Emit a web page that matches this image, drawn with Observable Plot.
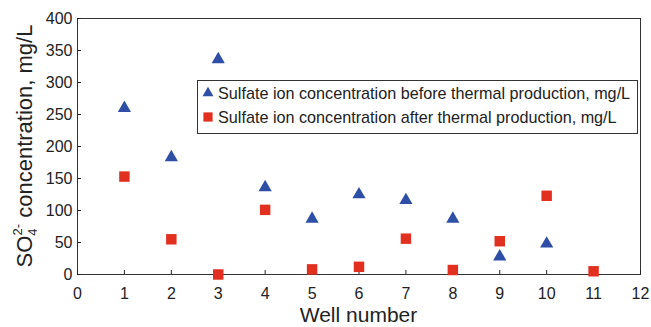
<!DOCTYPE html>
<html>
<head>
<meta charset="utf-8">
<script src="https://cdn.jsdelivr.net/npm/d3@7"></script>
<script src="https://cdn.jsdelivr.net/npm/@observablehq/plot@0.6"></script>
<style>
  html, body { margin: 0; padding: 0; background: #fff; }
  #chart { width: 651px; height: 327px; }
</style>
</head>
<body>
<div id="chart"></div>
<script>
// Data
const wellsBefore = [1, 2, 3, 4, 5, 6, 7, 8, 9, 10];
const sulfateBefore = [260, 183, 336, 136, 87, 125, 116, 87, 28, 48];
const wellsAfter = [1, 2, 3, 4, 5, 6, 7, 8, 9, 10, 11];
const sulfateAfter = [153, 55, 0, 101, 8, 12, 56, 7, 52, 123, 5];
const xTicks = [0, 1, 2, 3, 4, 5, 6, 7, 8, 9, 10, 11, 12];
const yTicks = [0, 50, 100, 150, 200, 250, 300, 350, 400];
const seriesNames = [
  "Sulfate ion concentration before thermal production, mg/L",
  "Sulfate ion concentration after thermal production, mg/L"
];
const xTitle = "Well number";

const W = 651, H = 327;
const mL = 77, mR = 11, mT = 18, mB = 53;
const blue = "#2f4fa6", red = "#e1301f";

const before = wellsBefore.map((w, i) => ({well: w, value: sulfateBefore[i]}));
const after = wellsAfter.map((w, i) => ({well: w, value: sulfateAfter[i]}));

const plot = Plot.plot({
  width: W,
  height: H,
  marginLeft: mL,
  marginRight: mR,
  marginTop: mT,
  marginBottom: mB,
  style: {fontFamily: "'Liberation Sans', Arial, sans-serif", fontSize: "16px", color: "#222", background: "#fff"},
  x: {domain: [0, 12]},
  y: {domain: [0, 400]},
  marks: [
    Plot.frame({stroke: "#333", strokeWidth: 1}),
    Plot.ruleX(xTicks, {x: d => d, insetTop: (H - mT - mB) - 4, stroke: "#222"}),
    Plot.ruleY(yTicks, {y: d => d, insetRight: (W - mL - mR) - 4, stroke: "#222"}),
    Plot.axisX({ticks: xTicks, tickSize: 0, tickPadding: 13, label: null, tickFormat: d => String(d), fontSize: 16}),
    Plot.axisY({ticks: yTicks, tickSize: 0, tickPadding: 5, label: null, tickFormat: d => String(d), fontSize: 16}),
    Plot.dot(before, {x: "well", y: "value", symbol: "triangle", r: 4.9, fill: blue, stroke: null}),
    Plot.dot(after, {x: "well", y: "value", symbol: "square", r: 5.9, fill: red, stroke: null})
  ]
});

document.getElementById("chart").appendChild(plot);

const svg = d3.select(plot);
const font = "'Liberation Sans', Arial, sans-serif";

// X axis title
svg.append("text")
  .attr("x", (mL + W - mR) / 2)
  .attr("y", 322)
  .attr("text-anchor", "middle")
  .attr("font-family", font)
  .attr("font-size", 21)
  .attr("fill", "#222")
  .text(xTitle);

// Y axis title with subscript/superscript
const yt = svg.append("text")
  .attr("transform", `translate(32,${(mT + H - mB) / 2}) rotate(-90)`)
  .attr("text-anchor", "middle")
  .attr("font-family", font)
  .attr("font-size", 22)
  .attr("fill", "#222");
yt.append("tspan").text("SO");
yt.append("tspan").attr("font-size", 13).attr("dy", 5).text("4");
yt.append("tspan").attr("font-size", 13).attr("dx", -7).attr("dy", -15).text("2-");
yt.append("tspan").attr("dy", 10).text(" concentration, mg/L");

// Legend
const lg = svg.append("g").attr("text-anchor", "start");
lg.append("rect")
  .attr("x", 197.5).attr("y", 80.5).attr("width", 440).attr("height", 53)
  .attr("fill", "#fff").attr("stroke", "#333").attr("stroke-width", 1);
const colors = [blue, red];
const syms = [d3.symbolTriangle, d3.symbolSquare];
const sizes = [52, 85];
seriesNames.forEach((name, i) => {
  const cy = 93 + i * 24;
  lg.append("path")
    .attr("d", d3.symbol(syms[i], sizes[i])())
    .attr("transform", `translate(208,${cy})`)
    .attr("fill", colors[i]);
  lg.append("text")
    .attr("x", 218).attr("y", cy + 5.8)
    .attr("text-anchor", "start")
    .attr("font-family", font).attr("font-size", 16.2).attr("fill", "#222")
    .text(name);
});
</script>
</body>
</html>
